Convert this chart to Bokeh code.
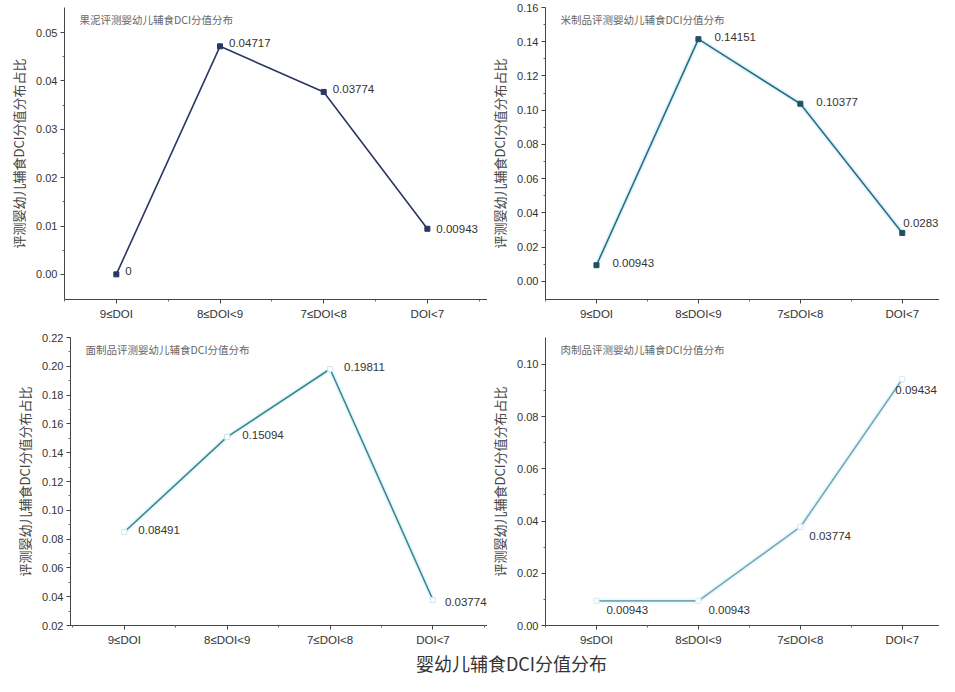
from bokeh.plotting import figure
from bokeh.layouts import column, row
from bokeh.models import FixedTicker, Range1d, ColumnDataSource, CustomJSTickFormatter
from bokeh.core.properties import value
from bokeh.embed import file_html
from bokeh.resources import INLINE

categories = ["9≤DOI", "8≤DOI<9", "7≤DOI<8", "DOI<7"]
titles = ["果泥评测婴幼儿辅食DCI分值分布", "米制品评测婴幼儿辅食DCI分值分布",
          "面制品评测婴幼儿辅食DCI分值分布", "肉制品评测婴幼儿辅食DCI分值分布"]
guo_ni = [0.0, 0.04717, 0.03774, 0.00943]
mi_zhi = [0.00943, 0.14151, 0.10377, 0.0283]
mian_zhi = [0.08491, 0.15094, 0.19811, 0.03774]
rou_zhi = [0.00943, 0.00943, 0.03774, 0.09434]
label_texts = [["0", "0.04717", "0.03774", "0.00943"],
               ["0.00943", "0.14151", "0.10377", "0.0283"],
               ["0.08491", "0.15094", "0.19811", "0.03774"],
               ["0.00943", "0.00943", "0.03774", "0.09434"]]
y_ticks = [[0.0, 0.01, 0.02, 0.03, 0.04, 0.05],
           [0.0, 0.02, 0.04, 0.06, 0.08, 0.10, 0.12, 0.14, 0.16],
           [0.02, 0.04, 0.06, 0.08, 0.10, 0.12, 0.14, 0.16, 0.18, 0.20, 0.22],
           [0.0, 0.02, 0.04, 0.06, 0.08, 0.10]]
y_label = "评测婴幼儿辅食DCI分值分布占比"
x_label = "婴幼儿辅食DCI分值分布"

FONT = "Liberation Sans"
CJK = "Noto Sans CJK SC"


def panel(vals, labels, title, ticks, yr, xr, w, h, bl, bt, bb,
          color, glow, marker_fill, marker_line, label_offsets):
    p = figure(width=w, height=h, output_backend="svg", toolbar_location=None,
               x_range=Range1d(*xr), y_range=Range1d(*yr),
               min_border_left=bl, min_border_right=0, min_border_top=bt,
               min_border_bottom=bb)
    p.outline_line_color = None
    p.grid.visible = False
    xs = list(range(len(vals)))
    src = ColumnDataSource(dict(x=xs, y=vals, t=labels,
                                dx=[o[0] for o in label_offsets],
                                dy=[o[1] for o in label_offsets]))
    if glow:
        p.line("x", "y", source=src, line_color=glow, line_width=5, line_alpha=0.35)
    p.line("x", "y", source=src, line_color=color, line_width=1.6)
    p.scatter("x", "y", source=src, marker="square", size=5,
              fill_color=marker_fill, line_color=marker_line, line_width=1)
    p.text("x", "y", text="t", source=src, x_offset="dx", y_offset="dy",
           text_font=value(FONT), text_font_size="11.5px", text_color="#333333",
           text_baseline="middle", text_align="left")
    p.text(x=[xr[0]], y=[yr[1]], text=[title], x_offset=15, y_offset=4,
           text_font=value(CJK), text_font_size="10.5px", text_color="#666666",
           text_baseline="top", text_align="left")
    p.xaxis.ticker = FixedTicker(ticks=xs, minor_ticks=[-0.5, 0.5, 1.5, 2.5, 3.5])
    p.xaxis.major_label_overrides = {i: c for i, c in enumerate(categories)}
    step = ticks[1] - ticks[0]
    p.yaxis.ticker = FixedTicker(ticks=ticks,
                                 minor_ticks=[t + step / 2 for t in ticks[:-1]])
    p.yaxis.formatter = CustomJSTickFormatter(code="return tick.toFixed(2);")
    p.yaxis.axis_label = y_label
    for ax in (p.xaxis[0], p.yaxis[0]):
        ax.axis_line_color = "#444444"
        ax.axis_line_width = 1
        ax.major_tick_line_color = "#444444"
        ax.minor_tick_line_color = "#666666"
        ax.major_tick_out = 4
        ax.major_tick_in = 0
        ax.minor_tick_out = 2
        ax.minor_tick_in = 0
        ax.major_label_text_font = FONT
        ax.major_label_text_color = "#333333"
    p.xaxis.major_label_text_font_size = "11.5px"
    p.yaxis.major_label_text_font_size = "11px"
    p.yaxis.major_label_standoff = 3
    p.yaxis.axis_label_text_font = CJK
    p.yaxis.axis_label_text_font_size = "13px"
    p.yaxis.axis_label_text_font_style = "normal"
    p.yaxis.axis_label_text_color = "#444444"
    p.yaxis.axis_label_standoff = 5
    p.xaxis.major_label_standoff = 4
    return p


p1 = panel(guo_ni, label_texts[0], titles[0], y_ticks[0], (-0.0052, 0.0552),
           (-0.5, 3.58), 487, 322, 64, 7, 17, "#2a3663", None, "#2a3663", "#2a3663",
           [(9, -3), (9, -3), (9, -3), (9, 0)])
p2 = panel(mi_zhi, label_texts[1], titles[1], y_ticks[1], (-0.0106, 0.16),
           (-0.5, 3.365), 452, 322, 50, 7, 17, "#2e6d8a", "#a8e4f2", "#244f63", "#244f63",
           [(16, -2), (16, -2), (16, -2), (1, -10)])
p3 = panel(mian_zhi, label_texts[2], titles[2], y_ticks[2], (0.02, 0.22),
           (-0.523, 3.53), 487, 326, 70, 14, 22, "#3f8690", "#b8ecf2", "white", "#cfe6ee",
           [(14, -2), (15, -2), (14, -2), (12, 2)])
p4 = panel(rou_zhi, label_texts[3], titles[3], y_ticks[3], (0.0, 0.1103),
           (-0.5, 3.365), 452, 326, 50, 15, 21, "#78a7b8", "#c4eef6", "white", "#d6eaf0",
           [(10, 9), (10, 9), (9, 9), (-7, 11)])

pl = figure(width=939, height=28, output_backend="svg", toolbar_location=None,
            x_range=Range1d(0, 939), y_range=Range1d(0, 28),
            min_border=0)
pl.axis.visible = False
pl.grid.visible = False
pl.outline_line_color = None
pl.text(x=[511], y=[14], text=[x_label], text_font=value(CJK), text_font_size="18px",
        text_color="#333333", text_align="center", text_baseline="middle")

layout = column(row(p1, p2), row(p3, p4), pl)
open("out.html", "w").write(file_html(layout, INLINE))
